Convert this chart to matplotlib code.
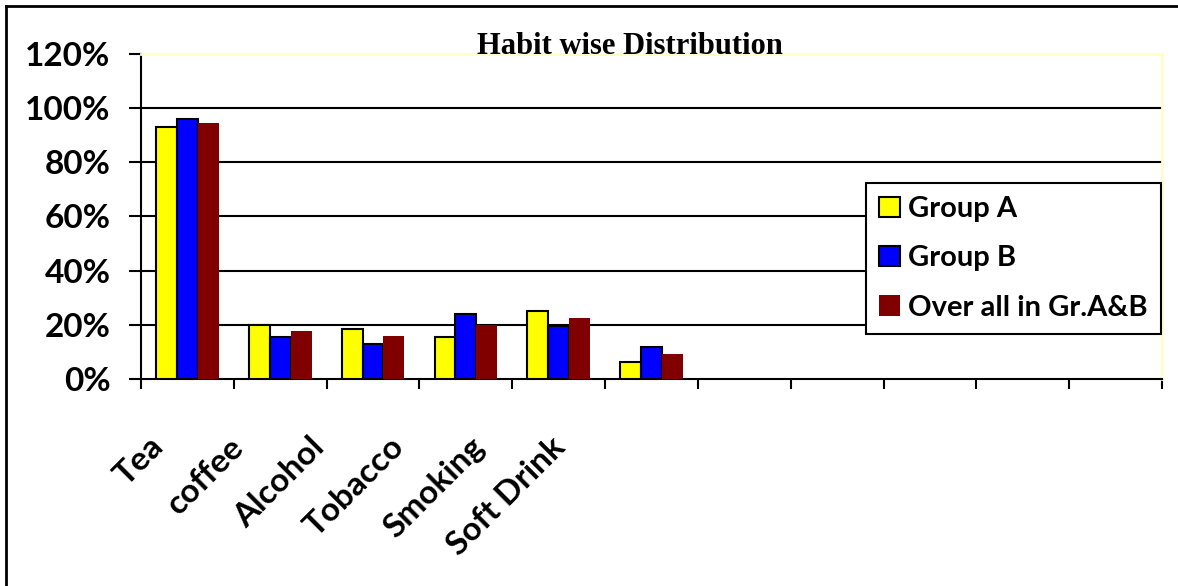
import numpy as np
import matplotlib.pyplot as plt
from matplotlib.lines import Line2D

# habit shares per group
habits = ['Tea', 'coffee', 'Alcohol', 'Tobacco', 'Smoking', 'Soft Drink']
group_a = [0.932, 0.198, 0.183, 0.156, 0.250, 0.063]
group_b = [0.959, 0.156, 0.129, 0.239, 0.196, 0.117]
overall = [0.944, 0.177, 0.159, 0.198, 0.224, 0.092]
n_slots = 11  # the category axis keeps room for empty slots

y_ticks = [0, 0.2, 0.4, 0.6, 0.8, 1.0, 1.2]
y_labels = ['0%', '20%', '40%', '60%', '80%', '100%', '120%']

plt.rcParams['font.family'] = ['Lato', 'DejaVu Sans']

fig = plt.figure(figsize=(11.78, 5.86), dpi=100)
ax = fig.add_axes([141 / 1178, 1 - 379 / 586, (1162 - 141) / 1178, (379 - 54) / 586])

x = np.arange(len(habits)) + 0.5
w = 0.225
ax.bar(x - w, group_a, w, color='#FFFF00', edgecolor='black', linewidth=1.5, label='Group A', zorder=3)
ax.bar(x, group_b, w, color='#0000FF', edgecolor='black', linewidth=1.5, label='Group B', zorder=3)
ax.bar(x + w, overall, w, color='#800000', edgecolor='none', label='Over all in Gr.A&B', zorder=3)

ax.set_xlim(0, n_slots)
ax.set_ylim(0, 1.2)

# gridlines below the top border
for y in y_ticks[1:-1]:
    ax.axhline(y, color='black', lw=1.5, zorder=1)

ax.set_yticks(y_ticks)
ax.set_yticklabels(y_labels, fontsize=24, fontweight='bold')
ax.tick_params(axis='y', length=9, width=1.5, pad=13)

# slot boundaries as minor ticks, labels slanted under the slots
ax.set_xticks(np.arange(n_slots + 1), minor=True)
ax.tick_params(axis='x', which='minor', length=7, width=1.5)
label_pos = np.arange(len(habits)) * 0.865 + 0.08
ax.set_xticks(label_pos)
ax.set_xticklabels(habits, fontsize=24, fontweight='bold', rotation=45,
                   ha='right', va='top', rotation_mode='anchor')
ax.tick_params(axis='x', which='major', length=0, pad=38)

for side in ['left', 'bottom']:
    ax.spines[side].set_linewidth(1.5)
    ax.spines[side].set_color('black')
for side in ['top', 'right']:
    ax.spines[side].set_linewidth(2)
    ax.spines[side].set_color('#ffffc8')

leg = ax.legend(loc='upper left', bbox_to_anchor=(866 / 1178, 1 - 183 / 586),
                bbox_transform=fig.transFigure,
                prop={'weight': 'bold', 'size': 21}, fancybox=False,
                framealpha=1, edgecolor='black', handlelength=0.7,
                handleheight=0.7, handletextpad=0.3, labelspacing=0.8,
                borderpad=0.45, borderaxespad=0)
leg.get_frame().set_linewidth(1.5)

fig.text(630 / 1178, 1 - 46 / 586, 'Habit wise Distribution', ha='center', va='center',
         fontsize=22, fontweight='bold', family='Liberation Serif')

# outer frame: only the left and top edges fall inside the image
fig.add_artist(Line2D([6 / 1178, 6 / 1178], [0, 1 - 6 / 586], transform=fig.transFigure,
                      color='black', lw=2))
fig.add_artist(Line2D([6 / 1178, 1], [1 - 6 / 586, 1 - 6 / 586], transform=fig.transFigure,
                      color='black', lw=2))

fig.savefig('out.png', dpi=100)
